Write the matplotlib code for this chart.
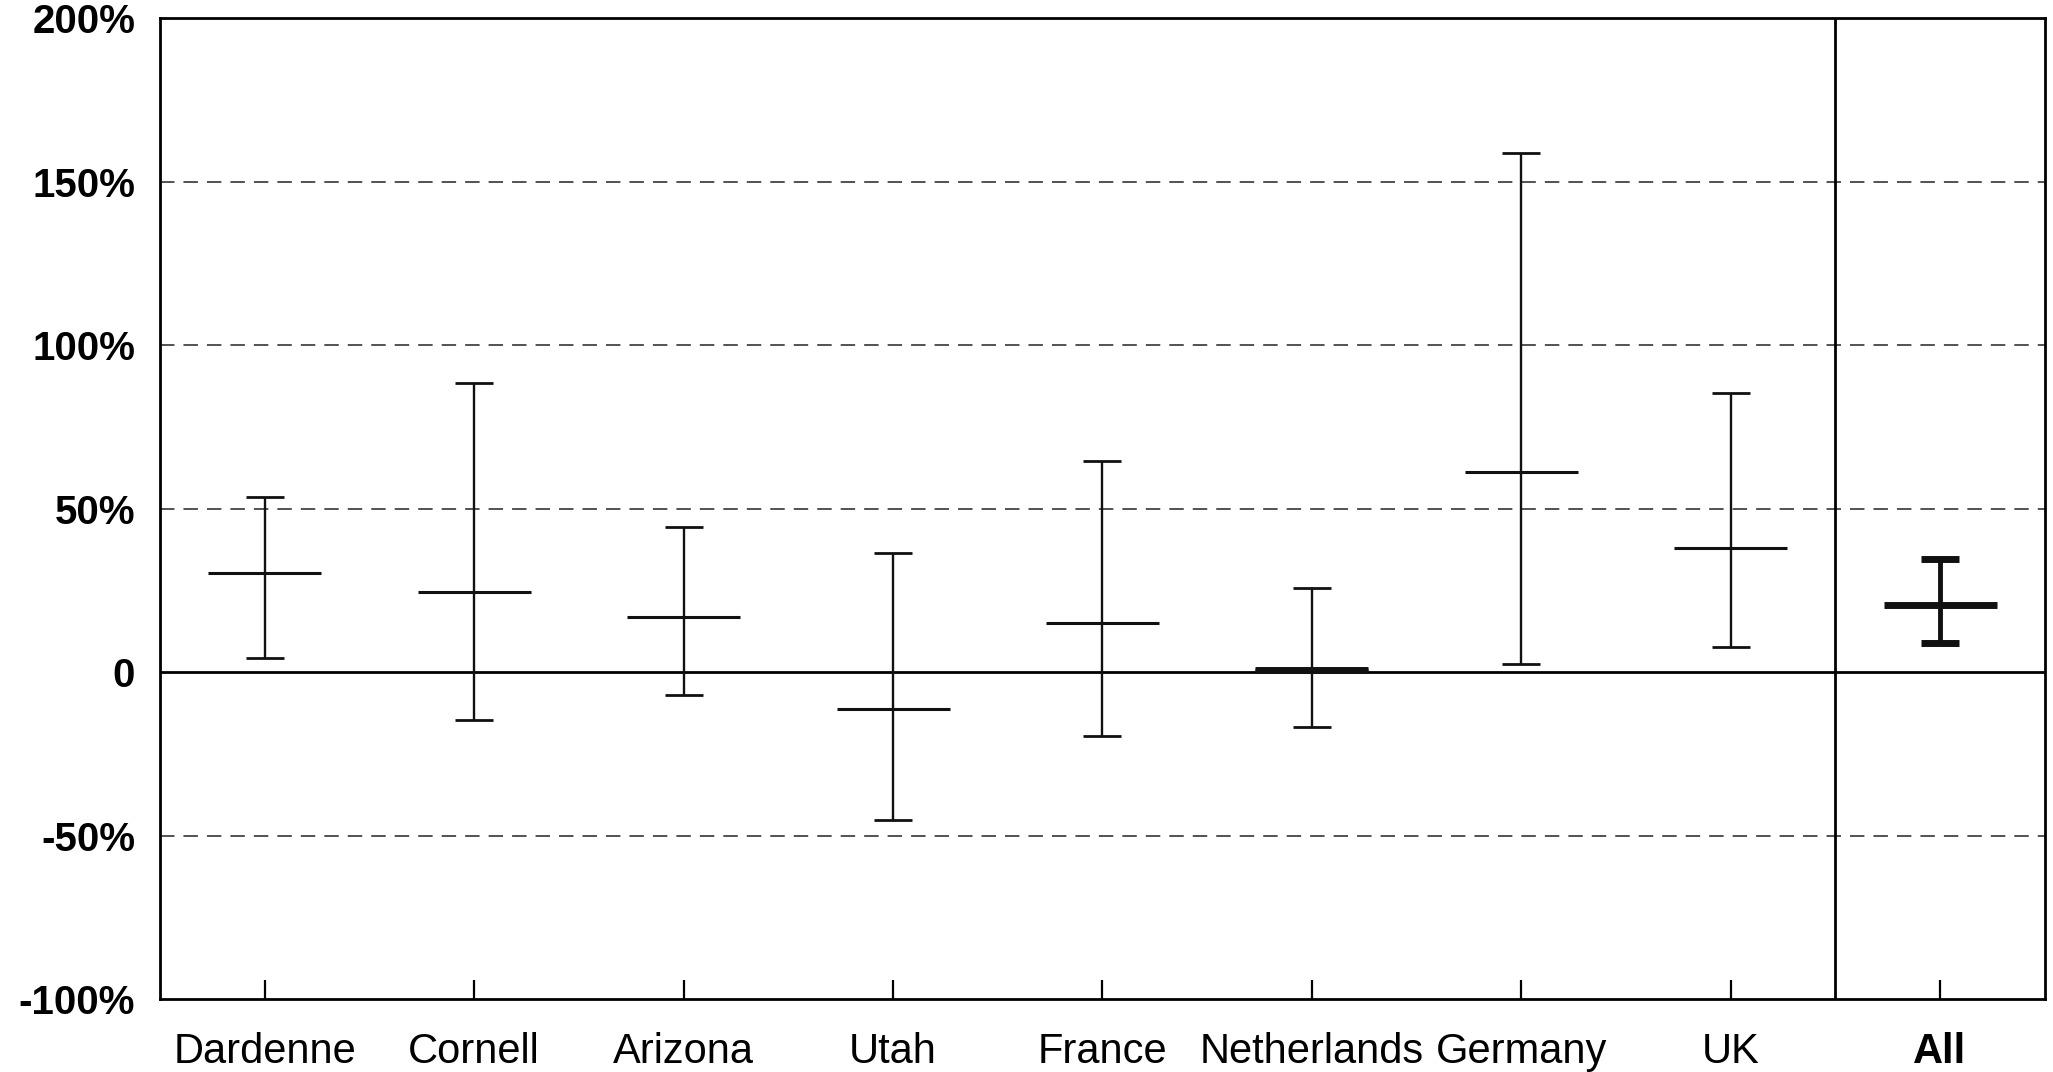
import numpy as np
import matplotlib as mpl
mpl.use('Agg')
import matplotlib.pyplot as plt

plt.rcParams['font.family'] = ['Liberation Sans', 'DejaVu Sans']

# values in percent
sites = ["Dardenne", "Cornell", "Arizona", "Utah", "France", "Netherlands", "Germany", "UK", "All"]
means = [30.2, 24.6, 16.9, -11.3, 14.9, 0.8, 61.3, 37.9, 20.6]
lows = [4.4, -14.5, -6.9, -45.2, -19.4, -16.9, 2.4, 7.7, 8.9]
highs = [53.6, 88.3, 44.4, 36.3, 64.5, 25.8, 158.9, 85.5, 34.7]
yticks = [-100, -50, 0, 50, 100, 150, 200]
ytick_labels = ["-100%", "-50%", "0", "50%", "100%", "150%", "200%"]

x = np.arange(len(sites))
means = np.array(means)
lows = np.array(lows)
highs = np.array(highs)

fig = plt.figure(figsize=(20.53, 10.72), dpi=100)
ax = fig.add_axes([0.078, 0.068, 0.918, 0.915])

ax.set_xlim(-0.5, len(sites) - 0.5)
ax.set_ylim(-100, 200)

# dashed gridlines
for g in [-50, 50, 100, 150]:
    ax.axhline(g, color='#444444', lw=1.3, ls=(0, (8, 5)), zorder=1)
ax.axhline(0, color='black', lw=2.0, zorder=2)
ax.axvline(7.5, color='black', lw=2.0, zorder=2)

single = x < 8
ax.errorbar(x[single], means[single],
            yerr=[means[single] - lows[single], highs[single] - means[single]],
            fmt='none', ecolor='#111111', elinewidth=1.7, capsize=14, capthick=2.0, zorder=3)
ax.hlines(means[single], x[single] - 0.27, x[single] + 0.27, color='#111111', lw=2.2, zorder=3)
# Netherlands bar sits on the zero line, looks heavier
ax.hlines(means[5], x[5] - 0.27, x[5] + 0.27, color='#111111', lw=5, zorder=3)

ax.errorbar(x[~single], means[~single],
            yerr=[means[~single] - lows[~single], highs[~single] - means[~single]],
            fmt='none', ecolor='#111111', elinewidth=3.5, capsize=14, capthick=5, zorder=3)
ax.hlines(means[~single], x[~single] - 0.27, x[~single] + 0.27, color='#111111', lw=5, zorder=3)

for s in ax.spines.values():
    s.set_linewidth(2.0)
    s.set_color('black')

ax.set_yticks(yticks)
ax.set_yticklabels(ytick_labels, fontsize=29, fontweight='bold')
ax.tick_params(axis='y', length=0, pad=18)

ax.set_xticks(x)
ax.set_xticklabels(sites, fontsize=30)
ax.get_xticklabels()[-1].set_fontweight('bold')
ax.tick_params(axis='x', direction='in', length=14, width=1.6, pad=24)

fig.savefig('out.png', dpi=100)
